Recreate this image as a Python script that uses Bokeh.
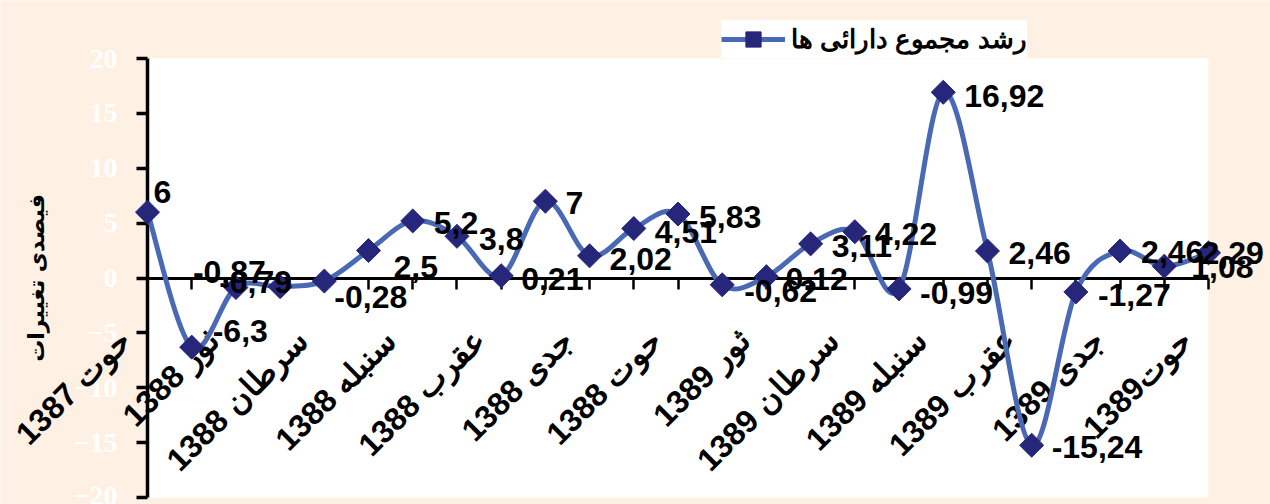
import numpy as np
from bokeh.plotting import figure
from bokeh.models import (ColumnDataSource, Range1d, FixedTicker, BoxAnnotation,
                          Legend, LegendItem)
from bokeh.embed import file_html
from bokeh.resources import INLINE
from bokeh.core.properties import value

# ---------------- data ----------------
tick_labels = ["حوت 1387", "ثور 1388", "سرطان 1388", "سنبله 1388", "عقرب 1388",
               "جدی 1388", "حوت 1388", "ثور 1389", "سرطان 1389", "سنبله 1389",
               "عقرب 1389", "جدی 1389", "حوت1389"]
growth = [6, -6.3, -0.87, -0.79, -0.28, 2.5, 5.2, 3.8, 0.21, 7, 2.02, 4.51, 5.83,
          -0.62, 0.12, 3.11, 4.22, -0.99, 16.92, 2.46, -15.24, -1.27, 2.46, 1.08, 2.29]
y_ticks = [-20, -15, -10, -5, 0, 5, 10, 15, 20]
series_name = "رشد مجموع دارائی ها"
y_title = "فیصدی تغییرات"

# label placement offsets in screen pixels (right / down)
label_dx = [6, 21, -43, -61, 10, 25, 21, 22, 20, 20, 20, 21, 21, 22, 19, 21, 20,
            21, 21, 21, 20, 22, 21, 27, -7]
label_dy = [-20, -16, -16, -5, 16, 16, 2, 3, 3, 2, 3, 3, 3, 6, 2, 2, 2, 4, 4, 2,
            2, 3, 1, 1, 0]

# ---------------- styling ----------------
CREAM = "#FEF0E3"
LINE = "#4A69B5"
MARK = "#26267A"
W, H = 1270, 504
X0_PX, X1_PX = 147, 1208      # pixel position of first / last category
YT_PX, YB_PX = 58, 497        # pixel position of y = 20 / y = -20

n = len(growth)
xs = np.arange(n, dtype=float)
ys = np.array(growth, dtype=float)

# smoothed line (Catmull-Rom converted to cubic Bezier control points)
xp = np.concatenate([[xs[0]], xs, [xs[-1]]])
yp = np.concatenate([[ys[0]], ys, [ys[-1]]])
cx0 = xs[:-1] + (xp[2:n + 1] - xp[0:n - 1]) / 6.0
cy0 = ys[:-1] + (yp[2:n + 1] - yp[0:n - 1]) / 6.0
cx1 = xs[1:] - (xp[3:n + 2] - xp[1:n]) / 6.0
cy1 = ys[1:] - (yp[3:n + 2] - yp[1:n]) / 6.0

ymin, ymax = y_ticks[0], y_ticks[-1]
sx = (X1_PX - X0_PX) / (n - 1)
sy = (YB_PX - YT_PX) / (ymax - ymin)
p = figure(width=W, height=H,
           x_range=Range1d(-X0_PX / sx, (n - 1) + (W - X1_PX) / sx),
           y_range=Range1d(ymin - (H - YB_PX) / sy, ymax + YT_PX / sy),
           output_backend="svg", toolbar_location=None,
           min_border=0)
p.background_fill_color = CREAM
p.border_fill_color = CREAM
p.outline_line_color = None
p.xgrid.visible = False
p.ygrid.visible = False

area = BoxAnnotation(left=0, right=n - 1, bottom=ymin, top=ymax,
                     fill_color="white", fill_alpha=1.0, line_color=None,
                     level="image")
p.add_layout(area)

# category labels, rotated, hanging under the zero line
cat_src = ColumnDataSource(dict(x=list(range(0, n, 2)), y=[0] * len(tick_labels),
                                t=tick_labels))
p.text(x="x", y="y", text="t", source=cat_src, angle=np.pi / 4,
       x_offset=-22, y_offset=57,
       text_font=value("Liberation Sans"), text_font_style="bold",
       text_font_size="32px", text_align="right", text_baseline="middle",
       text_color="black")

curve = p.bezier(x0=xs[:-1], y0=ys[:-1], x1=xs[1:], y1=ys[1:],
                 cx0=cx0, cy0=cy0, cx1=cx1, cy1=cy1,
                 line_color=LINE, line_width=5)
pts = p.scatter(x=xs, y=ys, marker="square", angle=np.pi / 4, size=17,
                fill_color=MARK, line_color=MARK, line_width=1)

lab_src = ColumnDataSource(dict(
    x=xs, y=ys,
    t=[f"{v:g}".replace(".", ",") for v in growth],
    dx=label_dx, dy=label_dy))
p.text(x="x", y="y", text="t", x_offset="dx", y_offset="dy", source=lab_src,
       text_font=value("Liberation Sans"), text_font_style="bold",
       text_font_size="32px", text_align="left", text_baseline="middle",
       text_color="black")

# x axis at y = 0 (line and tick marks)
xa = p.xaxis[0]
xa.fixed_location = 0
xa.bounds = (0, n - 1)
xa.ticker = FixedTicker(ticks=list(range(n)))
xa.major_label_text_color = None
xa.axis_line_width = 3
xa.axis_line_color = "black"
xa.major_tick_line_width = 2.5
xa.major_tick_in = 0
xa.major_tick_out = 11
xa.minor_tick_line_color = None
xa.level = "underlay"

# y axis at x = 0
ya = p.yaxis[0]
ya.fixed_location = 0
ya.bounds = (ymin, ymax)
ya.ticker = FixedTicker(ticks=y_ticks)
ya.major_label_text_font = "Liberation Serif"
ya.major_label_text_font_style = "bold"
ya.major_label_text_font_size = "28px"
ya.major_label_text_color = "white"
ya.major_label_standoff = 19
ya.axis_line_width = 3.5
ya.axis_line_color = "black"
ya.major_tick_line_width = 3.5
ya.major_tick_in = 0
ya.major_tick_out = 11
ya.minor_tick_line_color = None
ya.axis_label = y_title
ya.axis_label_text_font = "DejaVu Sans"
ya.axis_label_text_font_style = "bold"
ya.axis_label_text_font_size = "22px"
ya.axis_label_text_color = "black"
ya.axis_label_standoff = 22
ya.level = "underlay"

legend = Legend(items=[LegendItem(label=series_name, renderers=[curve, pts])],
                location=(721, H - YT_PX))
legend.background_fill_color = "white"
legend.background_fill_alpha = 1.0
legend.border_line_color = None
legend.padding = 10
legend.margin = 0
legend.glyph_width = 64
legend.glyph_height = 38
legend.label_height = 38
legend.label_standoff = 6
legend.label_text_font = "Liberation Sans"
legend.label_text_font_style = "bold"
legend.label_text_font_size = "26px"
legend.label_text_color = "black"
p.add_layout(legend)

open("out.html", "w").write(file_html(p, INLINE))
